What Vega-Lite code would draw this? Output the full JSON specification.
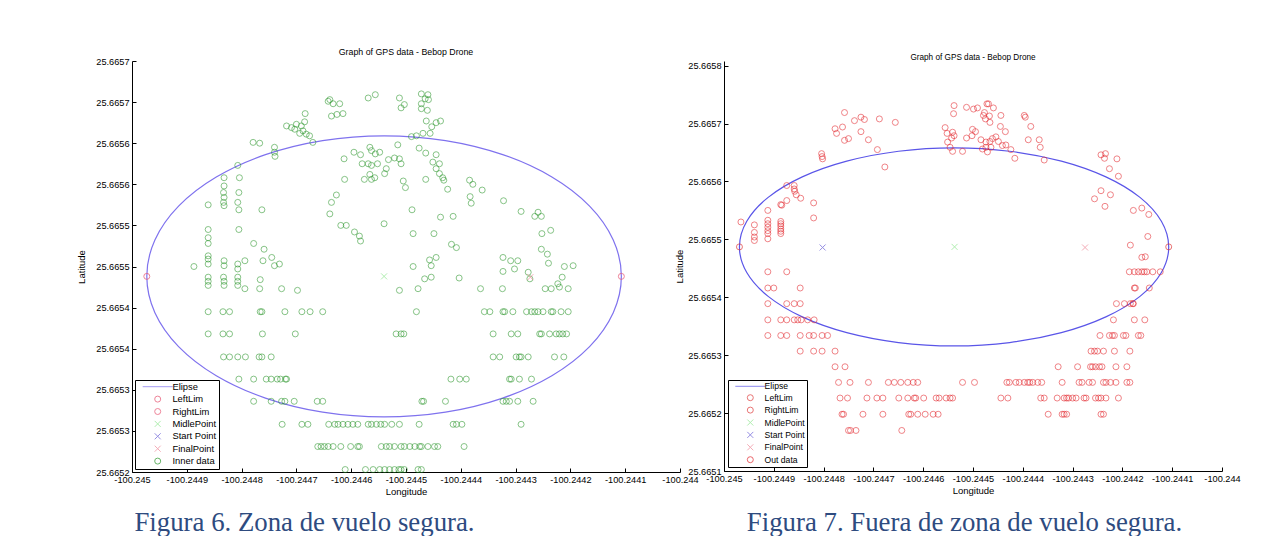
{
"$schema": "https://vega.github.io/schema/vega-lite/v6.json",
"background": "white",
"padding": {"left": 76, "top": 48, "right": 0, "bottom": 0},
"bounds": "flush",
"spacing": 44,
"config": {
  "locale": {"number": {"decimal": ".", "thousands": ",", "grouping": [3], "currency": ["$", ""], "minus": "-"}},
  "view": {"stroke": null},
  "font": "Liberation Sans",
  "axis": {"domainColor": "#000", "tickColor": "#000", "labelColor": "#000", "titleColor": "#000", "labelFont": "Liberation Sans", "labelFontSize": 9.2, "titleFont": "Liberation Sans", "titleFontSize": 9.5, "titleFontWeight": "normal", "grid": false, "tickSize": -4, "labelPadding": 7, "labelFlush": false, "labelOverlap": false, "domainWidth": 1, "tickWidth": 1},
  "legend": {"orient": "bottom-left", "offset": 3, "strokeColor": "#000", "fillColor": "#fff", "padding": 2, "labelFont": "Liberation Sans", "labelFontSize": 9.4, "labelColor": "#000", "symbolSize": 36, "symbolStrokeWidth": 1, "rowPadding": 1.4, "symbolOffset": 16, "labelOffset": 10, "cornerRadius": 0}
},
"resolve": {"scale": {"color": "independent", "shape": "independent"}},
"hconcat": [
{
  "width": 548, "height": 411,
  "title": {"text": "Graph of GPS data - Bebop Drone", "font": "Liberation Sans", "fontSize": 8.8, "fontWeight": "normal", "color": "#000", "frame": "group", "anchor": "middle", "baseline": "bottom", "offset": 3, "dy": 12},
  "resolve": {"axis": {"x": "independent", "y": "independent"}},
  "layer": [
    {
      "data": {"values": [
        {"i":0,"lon":-100.244107,"lat":25.665438},{"i":1,"lon":-100.2441218,"lat":25.6654823},{"i":2,"lon":-100.244165,"lat":25.6655235},{"i":3,"lon":-100.2442338,"lat":25.6655589},{"i":4,"lon":-100.2443235,"lat":25.6655861},{"i":5,"lon":-100.2444279,"lat":25.6656032},{"i":6,"lon":-100.24454,"lat":25.665609},{"i":7,"lon":-100.2446521,"lat":25.6656032},{"i":8,"lon":-100.2447565,"lat":25.6655861},{"i":9,"lon":-100.2448462,"lat":25.6655589},{"i":10,"lon":-100.244915,"lat":25.6655235},{"i":11,"lon":-100.2449582,"lat":25.6654823},{"i":12,"lon":-100.244973,"lat":25.665438},{"i":13,"lon":-100.2449582,"lat":25.6653937},{"i":14,"lon":-100.244915,"lat":25.6653525},{"i":15,"lon":-100.2448462,"lat":25.6653171},{"i":16,"lon":-100.2447565,"lat":25.6652899},{"i":17,"lon":-100.2446521,"lat":25.6652728},{"i":18,"lon":-100.24454,"lat":25.665267},{"i":19,"lon":-100.2444279,"lat":25.6652728},{"i":20,"lon":-100.2443235,"lat":25.6652899},{"i":21,"lon":-100.2442338,"lat":25.6653171},{"i":22,"lon":-100.244165,"lat":25.6653525},{"i":23,"lon":-100.2441218,"lat":25.6653937}
      ]},
      "mark": {"type": "line", "interpolate": "cardinal-closed", "color": "#7f72ee", "strokeWidth": 1.2},
      "encoding": {
        "x": {"field": "lon", "type": "quantitative", "scale": {"domain": [-100.245, -100.244], "nice": false, "zero": false},
              "axis": {"orient": "bottom", "domain": false, "ticks": false, "labels": false, "title": "Figura 6. Zona de vuelo segura.", "titleFont": "Liberation Serif", "titleFontSize": 26.8, "titleColor": "#2e4b7f", "titleFontWeight": "normal", "titleX": 172, "titleY": 58, "titleAlign": "center", "titleBaseline": "alphabetic"}},
        "y": {"field": "lat", "type": "quantitative", "scale": {"domain": [25.6652, 25.6657], "nice": false, "zero": false},
              "axis": {"orient": "left", "values": [25.6652, 25.66525, 25.6653, 25.66535, 25.6654, 25.66545, 25.6655, 25.66555, 25.6656, 25.66565, 25.6657], "labelExpr": "format(datum.value + 0.000001, '.4f')", "title": "Latitude", "titlePadding": 9}},
        "order": {"field": "i", "type": "quantitative"}
      }
    },
    {
      "data": {"values": [
{"lon":-100.244639,"lat":25.665653},{"lon":-100.244642,"lat":25.665651},{"lon":-100.244633,"lat":25.665648},{"lon":-100.244621,"lat":25.665648},{"lon":-100.244569,"lat":25.665655},{"lon":-100.244556,"lat":25.665659},{"lon":-100.244512,"lat":25.665655},{"lon":-100.244503,"lat":25.665647},{"lon":-100.244509,"lat":25.665643},{"lon":-100.244472,"lat":25.66566},{"lon":-100.24446,"lat":25.665659},{"lon":-100.244465,"lat":25.665654},{"lon":-100.244459,"lat":25.665653},{"lon":-100.244472,"lat":25.665648},{"lon":-100.244472,"lat":25.665642},{"lon":-100.244461,"lat":25.66564},{"lon":-100.244636,"lat":25.665633},{"lon":-100.244626,"lat":25.665635},{"lon":-100.244615,"lat":25.665636},{"lon":-100.244684,"lat":25.665636},
{"lon":-100.244718,"lat":25.665621},{"lon":-100.244709,"lat":25.665619},{"lon":-100.2447,"lat":25.665623},{"lon":-100.244703,"lat":25.665617},{"lon":-100.244691,"lat":25.665621},{"lon":-100.244685,"lat":25.665626},{"lon":-100.244688,"lat":25.665615},{"lon":-100.244682,"lat":25.665611},{"lon":-100.244676,"lat":25.665609},{"lon":-100.24467,"lat":25.665601},{"lon":-100.244694,"lat":25.665612},{"lon":-100.244463,"lat":25.665627},{"lon":-100.244453,"lat":25.66562},{"lon":-100.244445,"lat":25.665625},{"lon":-100.244437,"lat":25.665627},{"lon":-100.244456,"lat":25.665612},{"lon":-100.244469,"lat":25.665612},{"lon":-100.244481,"lat":25.665609},{"lon":-100.24449,"lat":25.665608},
{"lon":-100.244779,"lat":25.665601},{"lon":-100.244767,"lat":25.6656},{"lon":-100.24474,"lat":25.665595},{"lon":-100.24474,"lat":25.665589},{"lon":-100.244739,"lat":25.665584},{"lon":-100.244807,"lat":25.665573},{"lon":-100.244804,"lat":25.665558},{"lon":-100.244805,"lat":25.66554},{"lon":-100.244807,"lat":25.665528},{"lon":-100.244805,"lat":25.665519},{"lon":-100.244805,"lat":25.665495},{"lon":-100.244832,"lat":25.665558},{"lon":-100.244832,"lat":25.665548},{"lon":-100.244833,"lat":25.66554},{"lon":-100.244832,"lat":25.665534},{"lon":-100.244833,"lat":25.665528},{"lon":-100.244832,"lat":25.665524},{"lon":-100.244861,"lat":25.665525},{"lon":-100.244861,"lat":25.665495},{"lon":-100.244861,"lat":25.665485},{"lon":-100.244861,"lat":25.665478},{"lon":-100.244861,"lat":25.665463},{"lon":-100.244861,"lat":25.665459},{"lon":-100.244861,"lat":25.665453},{"lon":-100.244763,"lat":25.665519},{"lon":-100.244832,"lat":25.665457},{"lon":-100.244832,"lat":25.665451},{"lon":-100.244807,"lat":25.665453},{"lon":-100.244807,"lat":25.665447},{"lon":-100.244887,"lat":25.66545},{"lon":-100.244794,"lat":25.665457},{"lon":-100.244778,"lat":25.665478},{"lon":-100.244759,"lat":25.665471},{"lon":-100.244761,"lat":25.665457},{"lon":-100.244745,"lat":25.665461},{"lon":-100.24474,"lat":25.665451},{"lon":-100.244731,"lat":25.665453},
{"lon":-100.244595,"lat":25.665589},{"lon":-100.244583,"lat":25.665586},{"lon":-100.244566,"lat":25.665595},{"lon":-100.244563,"lat":25.665591},{"lon":-100.244556,"lat":25.665587},{"lon":-100.244548,"lat":25.665589},{"lon":-100.244613,"lat":25.665581},{"lon":-100.24458,"lat":25.665575},{"lon":-100.244569,"lat":25.665575},{"lon":-100.244563,"lat":25.665573},{"lon":-100.244552,"lat":25.665575},{"lon":-100.244532,"lat":25.66558},{"lon":-100.244521,"lat":25.665582},{"lon":-100.244512,"lat":25.665581},{"lon":-100.244509,"lat":25.665575},{"lon":-100.244515,"lat":25.665598},{"lon":-100.244536,"lat":25.665569},{"lon":-100.244539,"lat":25.665563},{"lon":-100.244566,"lat":25.665562},{"lon":-100.244563,"lat":25.665556},{"lon":-100.244576,"lat":25.665556},{"lon":-100.244557,"lat":25.665558},{"lon":-100.244612,"lat":25.665556},{"lon":-100.244505,"lat":25.665554},{"lon":-100.244501,"lat":25.665546},
{"lon":-100.244476,"lat":25.665594},{"lon":-100.244464,"lat":25.665588},{"lon":-100.244445,"lat":25.665586},{"lon":-100.244451,"lat":25.665577},{"lon":-100.244439,"lat":25.665575},{"lon":-100.244445,"lat":25.665569},{"lon":-100.244439,"lat":25.665563},{"lon":-100.244433,"lat":25.665558},{"lon":-100.244431,"lat":25.665555},{"lon":-100.244464,"lat":25.665556},{"lon":-100.244424,"lat":25.665544},{"lon":-100.244384,"lat":25.665555},{"lon":-100.244378,"lat":25.66555},{"lon":-100.244361,"lat":25.665543},{"lon":-100.244383,"lat":25.665535},{"lon":-100.244381,"lat":25.665527},{"lon":-100.244322,"lat":25.66553},{"lon":-100.24429,"lat":25.665517},{"lon":-100.244265,"lat":25.665511},{"lon":-100.244259,"lat":25.665516},{"lon":-100.244253,"lat":25.665511},{"lon":-100.244252,"lat":25.66549},{"lon":-100.244236,"lat":25.665494},{"lon":-100.244253,"lat":25.665471},{"lon":-100.244242,"lat":25.665465},{"lon":-100.24424,"lat":25.665454},{"lon":-100.244211,"lat":25.66545},{"lon":-100.244195,"lat":25.665451},{"lon":-100.244323,"lat":25.665461},{"lon":-100.244309,"lat":25.665457},{"lon":-100.244296,"lat":25.665457},{"lon":-100.244302,"lat":25.665447},{"lon":-100.244323,"lat":25.665444},{"lon":-100.244277,"lat":25.665443},
{"lon":-100.244489,"lat":25.665519},{"lon":-100.244437,"lat":25.66551},{"lon":-100.244414,"lat":25.665511},{"lon":-100.244627,"lat":25.665537},{"lon":-100.244636,"lat":25.665528},{"lon":-100.244639,"lat":25.665514},{"lon":-100.244619,"lat":25.6655},{"lon":-100.244609,"lat":25.6655},{"lon":-100.244594,"lat":25.665492},{"lon":-100.244585,"lat":25.665487},{"lon":-100.244583,"lat":25.665481},{"lon":-100.24454,"lat":25.665502},{"lon":-100.244487,"lat":25.66549},{"lon":-100.244449,"lat":25.66549},{"lon":-100.244417,"lat":25.665477},{"lon":-100.244408,"lat":25.665473},{"lon":-100.244457,"lat":25.665458},{"lon":-100.244445,"lat":25.665461},{"lon":-100.244454,"lat":25.665451},{"lon":-100.244487,"lat":25.66545},
{"lon":-100.244861,"lat":25.665437},{"lon":-100.244833,"lat":25.665437},{"lon":-100.244807,"lat":25.665437},{"lon":-100.244766,"lat":25.665434},{"lon":-100.244861,"lat":25.665427},{"lon":-100.244832,"lat":25.665427},{"lon":-100.244807,"lat":25.665427},{"lon":-100.244861,"lat":25.665432},{"lon":-100.244832,"lat":25.665432},{"lon":-100.244807,"lat":25.665432},{"lon":-100.244794,"lat":25.665423},{"lon":-100.244767,"lat":25.665423},{"lon":-100.244727,"lat":25.665423},{"lon":-100.244698,"lat":25.665421},{"lon":-100.244512,"lat":25.665421},{"lon":-100.244478,"lat":25.665423},{"lon":-100.244466,"lat":25.665435},{"lon":-100.244454,"lat":25.665437},{"lon":-100.244403,"lat":25.665436},{"lon":-100.244364,"lat":25.665423},{"lon":-100.244324,"lat":25.665423},{"lon":-100.244274,"lat":25.665435},{"lon":-100.244246,"lat":25.665423},{"lon":-100.244235,"lat":25.665423},{"lon":-100.244223,"lat":25.665429},{"lon":-100.244215,"lat":25.665437},{"lon":-100.244204,"lat":25.665423},{"lon":-100.24422,"lat":25.665425},
{"lon":-100.244861,"lat":25.665395},{"lon":-100.244834,"lat":25.665395},{"lon":-100.244822,"lat":25.665395},{"lon":-100.244766,"lat":25.665395},{"lon":-100.244763,"lat":25.665395},{"lon":-100.244721,"lat":25.665395},{"lon":-100.24469,"lat":25.665395},{"lon":-100.244675,"lat":25.665395},{"lon":-100.244652,"lat":25.665395},{"lon":-100.244481,"lat":25.665395},{"lon":-100.244357,"lat":25.665395},{"lon":-100.244347,"lat":25.665395},{"lon":-100.244323,"lat":25.665395},{"lon":-100.24432,"lat":25.665395},{"lon":-100.244305,"lat":25.665395},{"lon":-100.24428,"lat":25.665395},{"lon":-100.244271,"lat":25.665395},{"lon":-100.244265,"lat":25.665395},{"lon":-100.244259,"lat":25.665395},{"lon":-100.24425,"lat":25.665395},{"lon":-100.244235,"lat":25.665395},{"lon":-100.244232,"lat":25.665395},{"lon":-100.244217,"lat":25.665395},{"lon":-100.244204,"lat":25.665395},
{"lon":-100.244861,"lat":25.665368},{"lon":-100.244834,"lat":25.665368},{"lon":-100.244822,"lat":25.665368},{"lon":-100.244762,"lat":25.665368},{"lon":-100.244702,"lat":25.665368},{"lon":-100.244518,"lat":25.665368},{"lon":-100.244509,"lat":25.665368},{"lon":-100.244504,"lat":25.665368},{"lon":-100.244341,"lat":25.665368},{"lon":-100.244308,"lat":25.665368},{"lon":-100.244296,"lat":25.665368},{"lon":-100.244256,"lat":25.665368},{"lon":-100.244253,"lat":25.665368},{"lon":-100.244238,"lat":25.665368},{"lon":-100.244226,"lat":25.665368},{"lon":-100.24422,"lat":25.665368},{"lon":-100.244214,"lat":25.665368},{"lon":-100.244207,"lat":25.665368},
{"lon":-100.244833,"lat":25.66534},{"lon":-100.244822,"lat":25.66534},{"lon":-100.244807,"lat":25.66534},{"lon":-100.244793,"lat":25.66534},{"lon":-100.244768,"lat":25.66534},{"lon":-100.244763,"lat":25.66534},{"lon":-100.244746,"lat":25.66534},{"lon":-100.244341,"lat":25.66534},{"lon":-100.244329,"lat":25.66534},{"lon":-100.244299,"lat":25.66534},{"lon":-100.244293,"lat":25.66534},{"lon":-100.24429,"lat":25.66534},{"lon":-100.244277,"lat":25.66534},{"lon":-100.244229,"lat":25.66534},{"lon":-100.244212,"lat":25.66534},
{"lon":-100.244805,"lat":25.665313},{"lon":-100.244778,"lat":25.665313},{"lon":-100.244755,"lat":25.665313},{"lon":-100.244746,"lat":25.665313},{"lon":-100.244735,"lat":25.665313},{"lon":-100.244729,"lat":25.665313},{"lon":-100.24472,"lat":25.665313},{"lon":-100.244718,"lat":25.665313},{"lon":-100.244418,"lat":25.665313},{"lon":-100.244402,"lat":25.665313},{"lon":-100.24439,"lat":25.665313},{"lon":-100.244311,"lat":25.665313},{"lon":-100.244308,"lat":25.665313},{"lon":-100.244293,"lat":25.665313},{"lon":-100.244271,"lat":25.665313},
{"lon":-100.244778,"lat":25.665286},{"lon":-100.244746,"lat":25.665286},{"lon":-100.244727,"lat":25.665286},{"lon":-100.244721,"lat":25.665286},{"lon":-100.244704,"lat":25.665286},{"lon":-100.244662,"lat":25.665286},{"lon":-100.244652,"lat":25.665286},{"lon":-100.244471,"lat":25.665286},{"lon":-100.244468,"lat":25.665286},{"lon":-100.244428,"lat":25.665286},{"lon":-100.244323,"lat":25.665286},{"lon":-100.244317,"lat":25.665286},{"lon":-100.244311,"lat":25.665286},{"lon":-100.244296,"lat":25.665286},{"lon":-100.244268,"lat":25.665286},
{"lon":-100.244726,"lat":25.665258},{"lon":-100.24469,"lat":25.665258},{"lon":-100.244679,"lat":25.665258},{"lon":-100.244641,"lat":25.665258},{"lon":-100.24463,"lat":25.665258},{"lon":-100.244624,"lat":25.665258},{"lon":-100.244615,"lat":25.665258},{"lon":-100.244606,"lat":25.665258},{"lon":-100.244597,"lat":25.665258},{"lon":-100.244588,"lat":25.665258},{"lon":-100.244569,"lat":25.665258},{"lon":-100.244563,"lat":25.665258},{"lon":-100.244554,"lat":25.665258},{"lon":-100.244546,"lat":25.665258},{"lon":-100.244539,"lat":25.665258},{"lon":-100.244526,"lat":25.665258},{"lon":-100.244512,"lat":25.665258},{"lon":-100.244476,"lat":25.665258},{"lon":-100.244414,"lat":25.665258},{"lon":-100.244408,"lat":25.665258},{"lon":-100.244398,"lat":25.665258},{"lon":-100.24429,"lat":25.665258},
{"lon":-100.244661,"lat":25.665231},{"lon":-100.244655,"lat":25.665231},{"lon":-100.244649,"lat":25.665231},{"lon":-100.244642,"lat":25.665231},{"lon":-100.244633,"lat":25.665231},{"lon":-100.244619,"lat":25.665231},{"lon":-100.244601,"lat":25.665231},{"lon":-100.244588,"lat":25.665231},{"lon":-100.244585,"lat":25.665231},{"lon":-100.244545,"lat":25.665231},{"lon":-100.244536,"lat":25.665231},{"lon":-100.24453,"lat":25.665231},{"lon":-100.244521,"lat":25.665231},{"lon":-100.244509,"lat":25.665231},{"lon":-100.244503,"lat":25.665231},{"lon":-100.244493,"lat":25.665231},{"lon":-100.244484,"lat":25.665231},{"lon":-100.244475,"lat":25.665231},{"lon":-100.244472,"lat":25.665231},{"lon":-100.24446,"lat":25.665231},{"lon":-100.244448,"lat":25.665231},{"lon":-100.244442,"lat":25.665231},{"lon":-100.244394,"lat":25.665231},
{"lon":-100.244611,"lat":25.665203},{"lon":-100.244574,"lat":25.665203},{"lon":-100.24456,"lat":25.665203},{"lon":-100.244548,"lat":25.665203},{"lon":-100.244539,"lat":25.665203},{"lon":-100.24453,"lat":25.665203},{"lon":-100.244521,"lat":25.665203},{"lon":-100.244513,"lat":25.665203},{"lon":-100.244509,"lat":25.665203},{"lon":-100.244503,"lat":25.665203},{"lon":-100.244478,"lat":25.665203},{"lon":-100.244472,"lat":25.665203}
      ]},
      "mark": {"type": "point", "filled": false, "size": 36, "strokeWidth": 0.8},
      "encoding": {
        "x": {"field": "lon", "type": "quantitative",
              "axis": {"orient": "bottom", "values": [-100.245, -100.2449, -100.2448, -100.2447, -100.2446, -100.2445, -100.2444, -100.2443, -100.2442, -100.2441, -100.244], "format": ".4~f", "title": "Longitude", "titlePadding": 2}},
        "y": {"field": "lat", "type": "quantitative", "axis": null},
        "color": {"datum": "Inner data", "type": "nominal",
                  "scale": {"domain": ["Elipse", "LeftLim", "RightLim", "MidlePoint", "Start Point", "FinalPoint", "Inner data"], "range": ["#7f72ee", "#e8506e", "#e8506e", "#8fe88f", "#6a5fd8", "#f08a9a", "#2a962a"]},
                  "legend": {"title": null}},
        "shape": {"datum": "Inner data", "type": "nominal",
                  "scale": {"domain": ["Elipse", "LeftLim", "RightLim", "MidlePoint", "Start Point", "FinalPoint", "Inner data"], "range": ["M-5,0L5,0", "circle", "circle", "M-1,-1L1,1M-1,1L1,-1", "M-1,-1L1,1M-1,1L1,-1", "M-1,-1L1,1M-1,1L1,-1", "circle"]},
                  "legend": {"title": null}}
      }
    },
    {
      "data": {"values": [
        {"lon": -100.244973, "lat": 25.665438, "s": "LeftLim"},
        {"lon": -100.244107, "lat": 25.665438, "s": "RightLim"},
        {"lon": -100.24454, "lat": 25.665438, "s": "MidlePoint"},
        {"lon": -100.244273, "lat": 25.665437, "s": "FinalPoint"}
      ]},
      "mark": {"type": "point", "filled": false, "size": 36, "strokeWidth": 1},
      "encoding": {
        "x": {"field": "lon", "type": "quantitative", "axis": null},
        "y": {"field": "lat", "type": "quantitative", "axis": null},
        "color": {"field": "s", "type": "nominal", "legend": {"title": null}},
        "shape": {"field": "s", "type": "nominal", "legend": {"title": null}}
      }
    }
  ]
},
{
  "width": 498, "height": 410,
  "title": {"text": "Graph of GPS data - Bebop Drone", "font": "Liberation Sans", "fontSize": 8.2, "fontWeight": "normal", "color": "#000", "frame": "group", "anchor": "middle", "baseline": "bottom", "offset": 1, "dy": 10},
  "resolve": {"axis": {"x": "independent", "y": "independent"}},
  "layer": [
    {
      "data": {"values": [
        {"i":0,"lon":-100.244107,"lat":25.665487},{"i":1,"lon":-100.2441217,"lat":25.6655313},{"i":2,"lon":-100.2441647,"lat":25.6655725},{"i":3,"lon":-100.2442332,"lat":25.6656079},{"i":4,"lon":-100.2443225,"lat":25.6656351},{"i":5,"lon":-100.2444265,"lat":25.6656522},{"i":6,"lon":-100.244538,"lat":25.665658},{"i":7,"lon":-100.2446495,"lat":25.6656522},{"i":8,"lon":-100.2447535,"lat":25.6656351},{"i":9,"lon":-100.2448428,"lat":25.6656079},{"i":10,"lon":-100.2449113,"lat":25.6655725},{"i":11,"lon":-100.2449543,"lat":25.6655313},{"i":12,"lon":-100.244969,"lat":25.665487},{"i":13,"lon":-100.2449543,"lat":25.6654427},{"i":14,"lon":-100.2449113,"lat":25.6654015},{"i":15,"lon":-100.2448428,"lat":25.6653661},{"i":16,"lon":-100.2447535,"lat":25.6653389},{"i":17,"lon":-100.2446495,"lat":25.6653218},{"i":18,"lon":-100.244538,"lat":25.665316},{"i":19,"lon":-100.2444265,"lat":25.6653218},{"i":20,"lon":-100.2443225,"lat":25.6653389},{"i":21,"lon":-100.2442332,"lat":25.6653661},{"i":22,"lon":-100.2441647,"lat":25.6654015},{"i":23,"lon":-100.2441217,"lat":25.6654427}
      ]},
      "mark": {"type": "line", "interpolate": "cardinal-closed", "color": "#5a55e8", "strokeWidth": 1.2},
      "encoding": {
        "x": {"field": "lon", "type": "quantitative", "scale": {"domain": [-100.245, -100.244], "nice": false, "zero": false},
              "axis": {"orient": "bottom", "domain": false, "ticks": false, "labels": false, "title": "Figura 7. Fuera de zona de vuelo segura.", "titleFont": "Liberation Serif", "titleFontSize": 26.8, "titleColor": "#2e4b7f", "titleFontWeight": "normal", "titleX": 240, "titleY": 59, "titleAlign": "center", "titleBaseline": "alphabetic"}},
        "y": {"field": "lat", "type": "quantitative", "scale": {"domain": [25.6651, 25.665808], "nice": false, "zero": false},
              "axis": {"orient": "left", "values": [25.6651, 25.6652, 25.6653, 25.6654, 25.6655, 25.6656, 25.6657, 25.6658], "format": ".4f", "title": "Latitude", "titlePadding": 3}},
        "order": {"field": "i", "type": "quantitative"}
      }
    },
    {
      "data": {"values": [
{"lon":-100.244758,"lat":25.665719},{"lon":-100.244738,"lat":25.665705},{"lon":-100.244725,"lat":25.665711},{"lon":-100.244718,"lat":25.665707},{"lon":-100.244688,"lat":25.665708},{"lon":-100.244656,"lat":25.665702},{"lon":-100.244777,"lat":25.665691},{"lon":-100.244774,"lat":25.665683},{"lon":-100.244762,"lat":25.665694},{"lon":-100.244725,"lat":25.665686},{"lon":-100.244758,"lat":25.665671},{"lon":-100.24475,"lat":25.665674},{"lon":-100.24471,"lat":25.665672},{"lon":-100.244692,"lat":25.665655},{"lon":-100.244804,"lat":25.665648},{"lon":-100.244803,"lat":25.665643},{"lon":-100.244802,"lat":25.665639},{"lon":-100.244677,"lat":25.665625},
{"lon":-100.244874,"lat":25.665593},{"lon":-100.244859,"lat":25.665593},{"lon":-100.244859,"lat":25.665587},{"lon":-100.244858,"lat":25.665583},{"lon":-100.244855,"lat":25.665577},{"lon":-100.244846,"lat":25.665571},{"lon":-100.244874,"lat":25.665567},{"lon":-100.244886,"lat":25.66556},{"lon":-100.244884,"lat":25.665559},{"lon":-100.24482,"lat":25.665563},{"lon":-100.24482,"lat":25.665537},{"lon":-100.244912,"lat":25.66555},{"lon":-100.244912,"lat":25.665533},{"lon":-100.244912,"lat":25.665527},{"lon":-100.244912,"lat":25.665521},{"lon":-100.244912,"lat":25.665515},{"lon":-100.244912,"lat":25.66551},{"lon":-100.244912,"lat":25.665501},{"lon":-100.244939,"lat":25.665525},{"lon":-100.244939,"lat":25.665512},{"lon":-100.244939,"lat":25.665504},{"lon":-100.244939,"lat":25.665498},{"lon":-100.244886,"lat":25.665531},{"lon":-100.244886,"lat":25.665527},{"lon":-100.244886,"lat":25.665523},{"lon":-100.244886,"lat":25.665518},{"lon":-100.244886,"lat":25.665514},{"lon":-100.244886,"lat":25.66551},{"lon":-100.244966,"lat":25.66553},
{"lon":-100.244538,"lat":25.665731},{"lon":-100.244539,"lat":25.665717},{"lon":-100.244513,"lat":25.665728},{"lon":-100.244499,"lat":25.665725},{"lon":-100.244491,"lat":25.665727},{"lon":-100.244472,"lat":25.665734},{"lon":-100.244469,"lat":25.665734},{"lon":-100.244459,"lat":25.665727},{"lon":-100.244477,"lat":25.665719},{"lon":-100.244479,"lat":25.665714},{"lon":-100.244475,"lat":25.665708},{"lon":-100.244467,"lat":25.665713},{"lon":-100.244466,"lat":25.665702},{"lon":-100.244444,"lat":25.665714},{"lon":-100.244556,"lat":25.665693},{"lon":-100.244552,"lat":25.665683},{"lon":-100.244541,"lat":25.665685},{"lon":-100.244538,"lat":25.665679},{"lon":-100.244543,"lat":25.665675},{"lon":-100.244551,"lat":25.665668},{"lon":-100.244546,"lat":25.665659},{"lon":-100.244541,"lat":25.665652},{"lon":-100.244521,"lat":25.665652},{"lon":-100.244513,"lat":25.665675},{"lon":-100.244501,"lat":25.66569},{"lon":-100.244495,"lat":25.665686},{"lon":-100.244502,"lat":25.665679},{"lon":-100.244484,"lat":25.665672},{"lon":-100.244474,"lat":25.665668},{"lon":-100.244466,"lat":25.665669},{"lon":-100.244461,"lat":25.665674},{"lon":-100.244454,"lat":25.665677},{"lon":-100.244449,"lat":25.665669},{"lon":-100.244481,"lat":25.665656},{"lon":-100.244471,"lat":25.665651},{"lon":-100.244474,"lat":25.665659},{"lon":-100.244464,"lat":25.665659},{"lon":-100.244441,"lat":25.665662},{"lon":-100.244434,"lat":25.665663},{"lon":-100.244424,"lat":25.665655},{"lon":-100.244416,"lat":25.66564},{"lon":-100.244445,"lat":25.665695},{"lon":-100.244435,"lat":25.665686},{"lon":-100.244397,"lat":25.665714},{"lon":-100.244395,"lat":25.665711},{"lon":-100.244384,"lat":25.665695},{"lon":-100.244389,"lat":25.665672},{"lon":-100.244367,"lat":25.665672},{"lon":-100.244365,"lat":25.665659},{"lon":-100.244357,"lat":25.665637},
{"lon":-100.244243,"lat":25.665646},{"lon":-100.244234,"lat":25.665648},{"lon":-100.244236,"lat":25.66564},{"lon":-100.244211,"lat":25.665639},{"lon":-100.244226,"lat":25.665622},{"lon":-100.244208,"lat":25.665609},{"lon":-100.244243,"lat":25.665584},{"lon":-100.244224,"lat":25.665577},{"lon":-100.244256,"lat":25.66557},{"lon":-100.244235,"lat":25.665557},{"lon":-100.244178,"lat":25.66555},{"lon":-100.244161,"lat":25.665554},{"lon":-100.244147,"lat":25.665543},{"lon":-100.244149,"lat":25.665505},{"lon":-100.244184,"lat":25.66549},{"lon":-100.244161,"lat":25.665469},{"lon":-100.244154,"lat":25.66547},
{"lon":-100.244912,"lat":25.665444},{"lon":-100.244874,"lat":25.665444},{"lon":-100.244186,"lat":25.665444},{"lon":-100.244176,"lat":25.665444},{"lon":-100.244168,"lat":25.665444},{"lon":-100.244161,"lat":25.665444},{"lon":-100.244156,"lat":25.665444},{"lon":-100.244151,"lat":25.665444},{"lon":-100.244139,"lat":25.665444},{"lon":-100.244124,"lat":25.665444},
{"lon":-100.244912,"lat":25.665416},{"lon":-100.2449,"lat":25.665416},{"lon":-100.244847,"lat":25.665416},{"lon":-100.244176,"lat":25.665416},{"lon":-100.244174,"lat":25.665416},{"lon":-100.244146,"lat":25.665416},
{"lon":-100.244912,"lat":25.665389},{"lon":-100.244874,"lat":25.665389},{"lon":-100.244859,"lat":25.665389},{"lon":-100.244847,"lat":25.665389},{"lon":-100.244212,"lat":25.665389},{"lon":-100.244196,"lat":25.665389},{"lon":-100.244184,"lat":25.665389},{"lon":-100.244179,"lat":25.665389},{"lon":-100.244178,"lat":25.665389},
{"lon":-100.244912,"lat":25.665361},{"lon":-100.244886,"lat":25.665361},{"lon":-100.244874,"lat":25.665361},{"lon":-100.244859,"lat":25.665361},{"lon":-100.244852,"lat":25.665361},{"lon":-100.244845,"lat":25.665361},{"lon":-100.244832,"lat":25.665361},{"lon":-100.244819,"lat":25.665361},{"lon":-100.244218,"lat":25.665361},{"lon":-100.244176,"lat":25.665361},{"lon":-100.244155,"lat":25.665361},
{"lon":-100.244912,"lat":25.665334},{"lon":-100.244886,"lat":25.665334},{"lon":-100.244874,"lat":25.665334},{"lon":-100.244847,"lat":25.665334},{"lon":-100.244829,"lat":25.665334},{"lon":-100.24482,"lat":25.665334},{"lon":-100.244803,"lat":25.665334},{"lon":-100.244792,"lat":25.665334},{"lon":-100.244245,"lat":25.665334},{"lon":-100.244226,"lat":25.665334},{"lon":-100.24422,"lat":25.665334},{"lon":-100.244216,"lat":25.665334},{"lon":-100.244198,"lat":25.665334},{"lon":-100.244193,"lat":25.665334},{"lon":-100.244168,"lat":25.665334},{"lon":-100.244163,"lat":25.665334},
{"lon":-100.244847,"lat":25.665307},{"lon":-100.24482,"lat":25.665307},{"lon":-100.244803,"lat":25.665307},{"lon":-100.244777,"lat":25.665307},{"lon":-100.244263,"lat":25.665307},{"lon":-100.244256,"lat":25.665307},{"lon":-100.24425,"lat":25.665307},{"lon":-100.244238,"lat":25.665307},{"lon":-100.244216,"lat":25.665307},{"lon":-100.244185,"lat":25.665307},
{"lon":-100.244777,"lat":25.66528},{"lon":-100.244757,"lat":25.66528},{"lon":-100.244329,"lat":25.66528},{"lon":-100.24429,"lat":25.66528},{"lon":-100.244264,"lat":25.66528},{"lon":-100.24426,"lat":25.66528},{"lon":-100.244254,"lat":25.66528},{"lon":-100.244246,"lat":25.66528},{"lon":-100.244241,"lat":25.66528},{"lon":-100.244213,"lat":25.66528},{"lon":-100.244191,"lat":25.66528},
{"lon":-100.24477,"lat":25.665253},{"lon":-100.244747,"lat":25.665253},{"lon":-100.24471,"lat":25.665253},{"lon":-100.24467,"lat":25.665253},{"lon":-100.244658,"lat":25.665253},{"lon":-100.244645,"lat":25.665253},{"lon":-100.244631,"lat":25.665253},{"lon":-100.24462,"lat":25.665253},{"lon":-100.244611,"lat":25.665253},{"lon":-100.244521,"lat":25.665253},{"lon":-100.244497,"lat":25.665253},{"lon":-100.244432,"lat":25.665253},{"lon":-100.244427,"lat":25.665253},{"lon":-100.244414,"lat":25.665253},{"lon":-100.244407,"lat":25.665253},{"lon":-100.244397,"lat":25.665253},{"lon":-100.24439,"lat":25.665253},{"lon":-100.244386,"lat":25.665253},{"lon":-100.24438,"lat":25.665253},{"lon":-100.24437,"lat":25.665253},{"lon":-100.244362,"lat":25.665253},{"lon":-100.244321,"lat":25.665253},{"lon":-100.244287,"lat":25.665253},{"lon":-100.244281,"lat":25.665253},{"lon":-100.244267,"lat":25.665253},{"lon":-100.24426,"lat":25.665253},{"lon":-100.244238,"lat":25.665253},{"lon":-100.244233,"lat":25.665253},{"lon":-100.244224,"lat":25.665253},{"lon":-100.244213,"lat":25.665253},{"lon":-100.244191,"lat":25.665253},{"lon":-100.244185,"lat":25.665253},
{"lon":-100.244767,"lat":25.665226},{"lon":-100.244752,"lat":25.665226},{"lon":-100.244713,"lat":25.665226},{"lon":-100.244693,"lat":25.665226},{"lon":-100.244681,"lat":25.665226},{"lon":-100.244649,"lat":25.665226},{"lon":-100.244631,"lat":25.665226},{"lon":-100.244618,"lat":25.665226},{"lon":-100.244615,"lat":25.665226},{"lon":-100.244599,"lat":25.665226},{"lon":-100.244574,"lat":25.665226},{"lon":-100.244568,"lat":25.665226},{"lon":-100.244554,"lat":25.665226},{"lon":-100.244546,"lat":25.665226},{"lon":-100.244541,"lat":25.665226},{"lon":-100.244444,"lat":25.665226},{"lon":-100.24443,"lat":25.665226},{"lon":-100.244364,"lat":25.665226},{"lon":-100.244357,"lat":25.665226},{"lon":-100.244331,"lat":25.665226},{"lon":-100.244317,"lat":25.665226},{"lon":-100.244312,"lat":25.665226},{"lon":-100.244308,"lat":25.665226},{"lon":-100.2443,"lat":25.665226},{"lon":-100.244293,"lat":25.665226},{"lon":-100.244277,"lat":25.665226},{"lon":-100.244273,"lat":25.665226},{"lon":-100.244254,"lat":25.665226},{"lon":-100.244248,"lat":25.665226},{"lon":-100.244243,"lat":25.665226},{"lon":-100.244233,"lat":25.665226},{"lon":-100.244208,"lat":25.665226},
{"lon":-100.244763,"lat":25.665198},{"lon":-100.24476,"lat":25.665198},{"lon":-100.244721,"lat":25.665198},{"lon":-100.244681,"lat":25.665198},{"lon":-100.244629,"lat":25.665198},{"lon":-100.244625,"lat":25.665198},{"lon":-100.244611,"lat":25.665198},{"lon":-100.244596,"lat":25.665198},{"lon":-100.24458,"lat":25.665198},{"lon":-100.24457,"lat":25.665198},{"lon":-100.244349,"lat":25.665198},{"lon":-100.244321,"lat":25.665198},{"lon":-100.244317,"lat":25.665198},{"lon":-100.244312,"lat":25.665198},{"lon":-100.244243,"lat":25.665198},{"lon":-100.244238,"lat":25.665198},
{"lon":-100.24475,"lat":25.66517},{"lon":-100.244746,"lat":25.66517},{"lon":-100.244735,"lat":25.66517},{"lon":-100.244643,"lat":25.66517}
      ]},
      "mark": {"type": "point", "filled": false, "size": 36, "strokeWidth": 0.8},
      "encoding": {
        "x": {"field": "lon", "type": "quantitative",
              "axis": {"orient": "bottom", "values": [-100.245, -100.2449, -100.2448, -100.2447, -100.2446, -100.2445, -100.2444, -100.2443, -100.2442, -100.2441, -100.244], "format": ".4~f", "title": "Longitude", "titlePadding": 2}},
        "y": {"field": "lat", "type": "quantitative", "axis": null},
        "color": {"datum": "Out data", "type": "nominal",
                  "scale": {"domain": ["Elipse", "LeftLim", "RightLim", "MidlePoint", "Start Point", "FinalPoint", "Out data"], "range": ["#5a55e8", "#e03a3a", "#e03a3a", "#8fe88f", "#6a5fd8", "#f08a9a", "#e3242b"]},
                  "legend": {"title": null, "labelFontSize": 8.6, "offset": 4}},
        "shape": {"datum": "Out data", "type": "nominal",
                  "scale": {"domain": ["Elipse", "LeftLim", "RightLim", "MidlePoint", "Start Point", "FinalPoint", "Out data"], "range": ["M-5,0L5,0", "circle", "circle", "M-1,-1L1,1M-1,1L1,-1", "M-1,-1L1,1M-1,1L1,-1", "M-1,-1L1,1M-1,1L1,-1", "circle"]},
                  "legend": {"title": null, "labelFontSize": 8.6, "offset": 4}}
      }
    },
    {
      "data": {"values": [
        {"lon": -100.244969, "lat": 25.665487, "s": "LeftLim"},
        {"lon": -100.244107, "lat": 25.665487, "s": "RightLim"},
        {"lon": -100.244537, "lat": 25.665487, "s": "MidlePoint"},
        {"lon": -100.244802, "lat": 25.665486, "s": "Start Point"},
        {"lon": -100.244275, "lat": 25.665486, "s": "FinalPoint"}
      ]},
      "mark": {"type": "point", "filled": false, "size": 36, "strokeWidth": 1},
      "encoding": {
        "x": {"field": "lon", "type": "quantitative", "axis": null},
        "y": {"field": "lat", "type": "quantitative", "axis": null},
        "color": {"field": "s", "type": "nominal", "legend": {"title": null, "labelFontSize": 8.6, "offset": 4}},
        "shape": {"field": "s", "type": "nominal", "legend": {"title": null, "labelFontSize": 8.6, "offset": 4}}
      }
    }
  ]
}
]
}
